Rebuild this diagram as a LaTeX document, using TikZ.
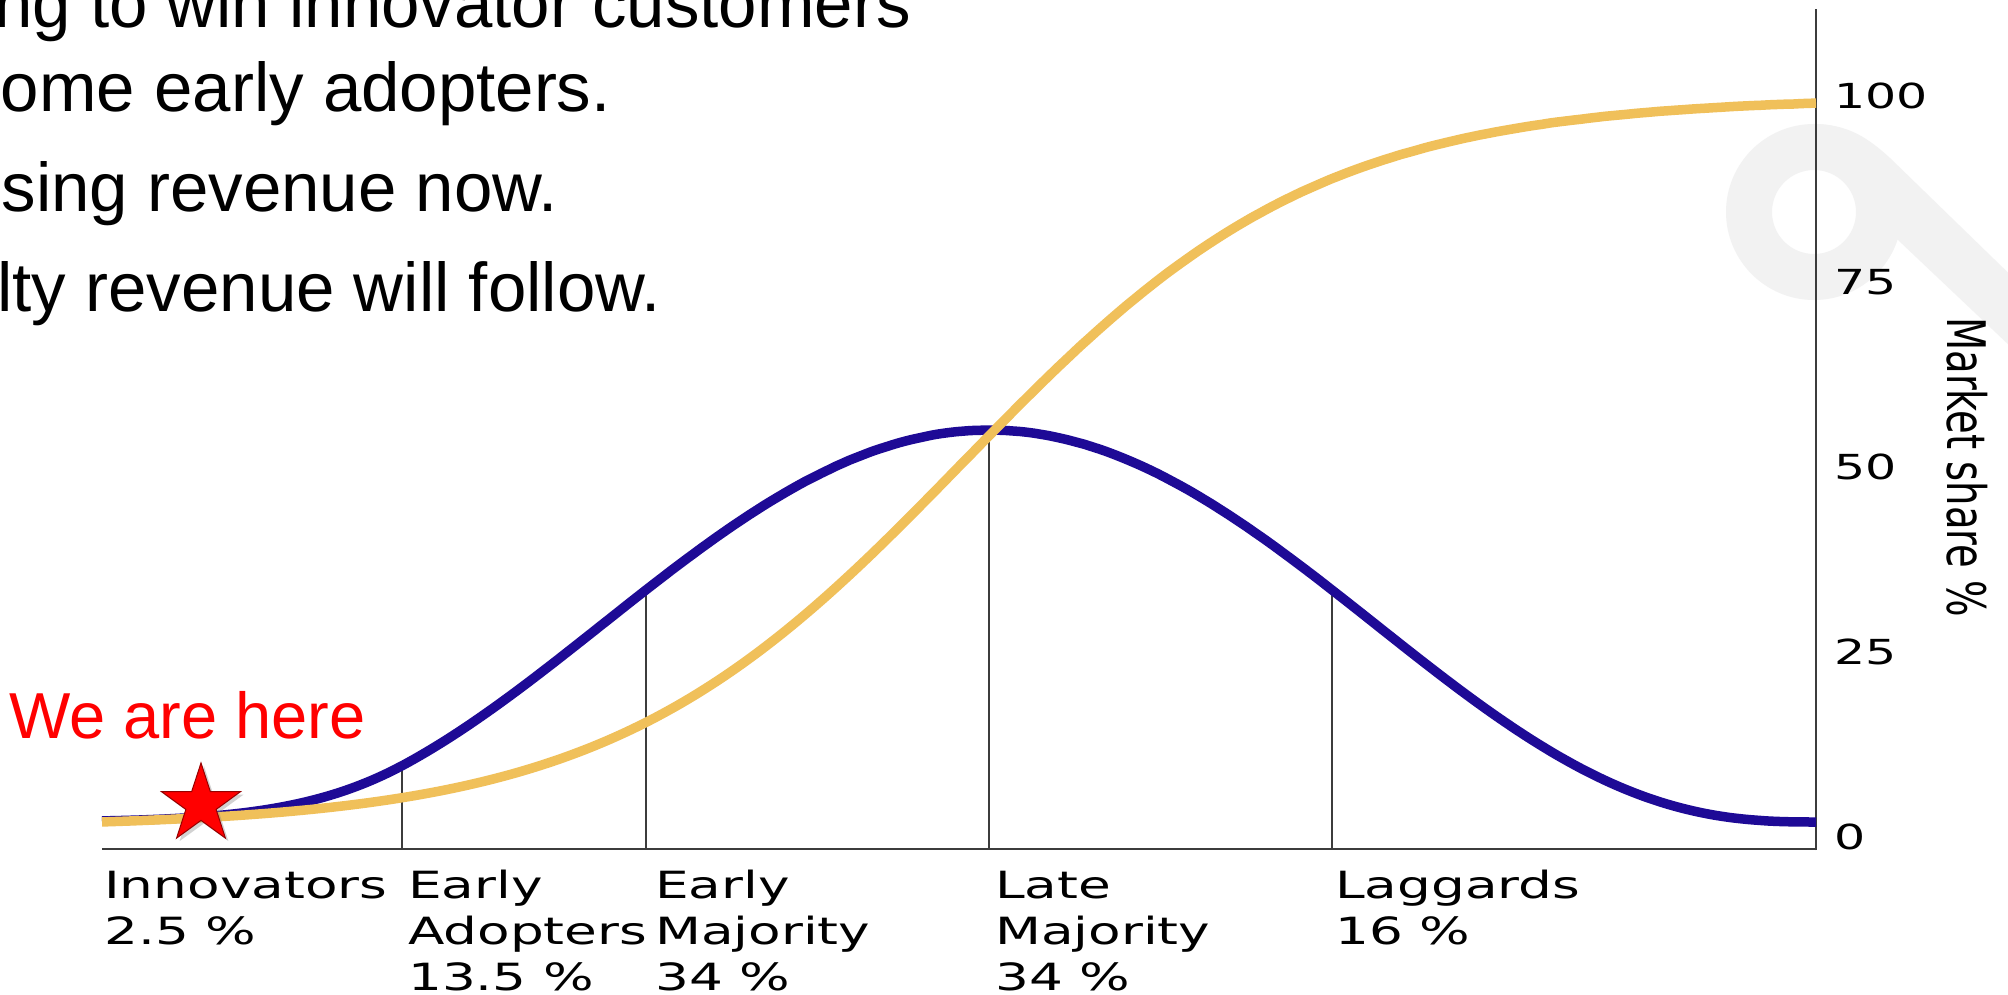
\documentclass[tikz,border=0pt]{standalone}
\usepackage{fontspec}
\usepackage{graphicx}
\setmainfont{Liberation Sans}
\newfontfamily\dvsans{DejaVu Sans}
\usetikzlibrary{shadows}
\definecolor{bellblue}{RGB}{30,10,150}
\definecolor{scurve}{RGB}{240,192,90}
\definecolor{axisgray}{RGB}{60,60,60}
\definecolor{wmark}{RGB}{242,242,242}
\definecolor{starred}{RGB}{255,0,0}
\definecolor{staredge}{RGB}{150,0,0}
\newcommand{\widex}[1]{\scalebox{1.42}[1]{#1}}
\begin{document}
\begin{tikzpicture}[x=1pt,y=-1pt,
  bodytext/.style={anchor=base east, inner sep=0pt, font=\fontsize{69}{83}\selectfont},
  catlabel/.style={anchor=base west, inner sep=0pt, font=\dvsans\fontsize{37.5}{46}\selectfont},
  ticklabel/.style={anchor=base west, inner sep=0pt, font=\dvsans\fontsize{34.5}{40}\selectfont},
  divline/.style={draw=axisgray, line width=2pt},
  axisline/.style={draw=axisgray, line width=2.6pt},
  curve/.style={line width=9.5pt, line join=round},
  declare function={
    bell(\t)=822-392*(1-((\t-989)/830)^2)^2.8;
    belltail(\t)=822-56.3*exp(0.952*((\t-402)/100)-0.12*((\t-402)/100)^2);
    scum(\t)=822-719*((1/(1+exp(-(\t-963)/178)))-0.0078)/0.984;
  },
]
\useasboundingbox (0,0) rectangle (2008,995);
\fill[white] (0,0) rectangle (2008,995);

% watermark
\fill[wmark, even odd rule] (1814,212) circle (88pt) (1814,212) circle (42pt);
\fill[wmark] (1813,124) .. controls (1848,124) and (1868,138) .. (1890,158)
  -- (2030,294) -- (2030,365) -- (1898,240) -- (1860,180) -- cycle;

% coordinates
\coordinate (d1t) at (402,{bell(402)});   \coordinate (d1b) at (402,849);
\coordinate (d2t) at (646,{bell(646)});   \coordinate (d2b) at (646,849);
\coordinate (d3t) at (989,{bell(989)});   \coordinate (d3b) at (989,849);
\coordinate (d4t) at (1332,{bell(1332)}); \coordinate (d4b) at (1332,849);
\coordinate (xa0) at (102,849);  \coordinate (xa1) at (1817,849);
\coordinate (ya0) at (1816,850); \coordinate (ya1) at (1816,9);

% division lines and axes
\draw[divline] (d1t) -- (d1b);
\draw[divline] (d2t) -- (d2b);
\draw[divline] (d3t) -- (d3b);
\draw[divline] (d4t) -- (d4b);
\draw[axisline] (xa0) -- (xa1);
\draw[axisline] (ya0) -- (ya1);

% bell curve
\draw[bellblue, curve]
  plot[domain=102:402, samples=60, smooth] (\x,{belltail(\x)})
  -- plot[domain=402:1816, samples=200, smooth] (\x,{bell(\x)});

% s-curve
\draw[scurve, curve] plot[domain=102:1816, samples=220, smooth] (\x,{scum(\x)});

% star
\filldraw[fill=starred, draw=staredge, line width=1pt,
  drop shadow={shadow xshift=3pt, shadow yshift=-3pt, opacity=0.35}]
  (201,804.5) +(-90:41.5) -- +(-54:15.9) -- +(-18:41.5) -- +(18:15.9)
  -- +(54:41.5) -- +(90:15.9) -- +(126:41.5) -- +(162:15.9)
  -- +(198:41.5) -- +(234:15.9) -- cycle;

% body text
\node[bodytext] (t1) at (911,28) {ng to win innovator customers};
\node[bodytext] (t2) at (611,112) {ome early adopters.};
\node[bodytext] (t3) at (558,212) {sing revenue now.};
\node[bodytext] (t4) at (661,311) {lty revenue will follow.};

\node[anchor=base west, inner sep=0pt, text=red, font=\fontsize{65}{78}\selectfont]
  (here) at (9,738) {We are here};

% category labels
\node[catlabel] (c1) at (104,898) {\widex{\begin{tabular}[t]{@{}l@{}}Innovators\\2.5 \%\end{tabular}}};
\node[catlabel] (c2) at (408,898) {\widex{\begin{tabular}[t]{@{}l@{}}Early\\Adopters\\13.5 \%\end{tabular}}};
\node[catlabel] (c3) at (655,898) {\widex{\begin{tabular}[t]{@{}l@{}}Early\\Majority\\34 \%\end{tabular}}};
\node[catlabel] (c4) at (995,898) {\widex{\begin{tabular}[t]{@{}l@{}}Late\\Majority\\34 \%\end{tabular}}};
\node[catlabel] (c5) at (1335,898) {\widex{\begin{tabular}[t]{@{}l@{}}Laggards\\16 \%\end{tabular}}};

% tick labels
\node[ticklabel] (k100) at (1834,109) {\widex{100}};
\node[ticklabel] (k75) at (1834,294) {\widex{75}};
\node[ticklabel] (k50) at (1834,479) {\widex{50}};
\node[ticklabel] (k25) at (1834,664) {\widex{25}};
\node[ticklabel] (k0) at (1834,849) {\widex{0}};

\node[rotate=-90, anchor=base west, inner sep=0pt, font=\dvsans\fontsize{38.5}{46}\selectfont]
  (ylab) at (1947,317) {\scalebox{1}[1.38]{Market share \%}};
\end{tikzpicture}
\end{document}
